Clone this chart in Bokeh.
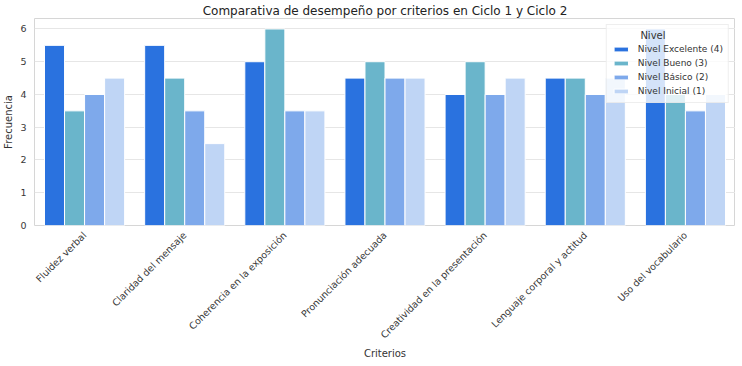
from bokeh.plotting import figure
from bokeh.models import ColumnDataSource, FactorRange, Legend, LegendItem
from bokeh.transform import dodge
from bokeh.embed import file_html
from bokeh.resources import INLINE
import math

criterios = ["Fluidez verbal", "Claridad del mensaje", "Coherencia en la exposición",
             "Pronunciación adecuada", "Creatividad en la presentación",
             "Lenguaje corporal y actitud", "Uso del vocabulario"]
excelente = [5.5, 5.5, 5.0, 4.5, 4.0, 4.5, 6.0]
bueno = [3.5, 4.5, 6.0, 5.0, 5.0, 4.5, 4.0]
basico = [4.0, 3.5, 3.5, 4.5, 4.0, 4.0, 3.5]
inicial = [4.5, 2.5, 3.5, 4.5, 4.5, 4.5, 4.0]
niveles = ["Nivel Excelente (4)", "Nivel Bueno (3)", "Nivel Básico (2)", "Nivel Inicial (1)"]
colores = ["#2a72df", "#6ab5cb", "#7ea9eb", "#bfd5f5"]

src = ColumnDataSource(dict(cat=criterios, exc=excelente, bue=bueno, bas=basico, ini=inicial))

p = figure(x_range=FactorRange(factors=criterios), y_range=(0, 6.32),
           frame_width=701, frame_height=207, output_backend="svg", toolbar_location=None,
           title="Comparativa de desempeño por criterios en Ciclo 1 y Ciclo 2",
           min_border_left=26, min_border_right=0, min_border_top=14, min_border_bottom=0)

cols = ["exc", "bue", "bas", "ini"]
offsets = [-0.3, -0.1, 0.1, 0.3]
renderers = []
for c, off, col in zip(cols, offsets, colores):
    r = p.vbar(x=dodge("cat", off, range=p.x_range), top=c, width=0.2, source=src,
               fill_color=col, line_color="white", line_width=1)
    renderers.append(r)

p.title.align = "center"
p.title.text_font = "DejaVu Sans"
p.title.text_font_size = "12px"
p.title.text_font_style = "normal"
p.title.text_color = "#222222"
p.title.standoff = 2

p.xgrid.grid_line_color = None
p.ygrid.grid_line_color = "#e6e6e6"
p.ygrid.grid_line_width = 1
p.outline_line_color = "#d6d6d6"
p.outline_line_width = 1

for ax in (p.xaxis, p.yaxis):
    ax.axis_line_color = None
    ax.major_tick_line_color = None
    ax.minor_tick_line_color = None
    ax.major_label_text_font = "DejaVu Sans"
    ax.major_label_text_font_size = "9.5px"
    ax.major_label_text_color = "#383838"
    ax.axis_label_text_font = "DejaVu Sans"
    ax.axis_label_text_font_size = "10px"
    ax.axis_label_text_font_style = "normal"
    ax.axis_label_text_color = "#333333"
    ax.major_tick_out = 0
    ax.major_tick_in = 0

p.yaxis.ticker = [0, 1, 2, 3, 4, 5, 6]
p.yaxis.axis_label = "Frecuencia"
p.yaxis.major_label_standoff = 8
p.yaxis.axis_label_standoff = 3
p.xaxis.axis_label = "Criterios"
p.xaxis.major_label_orientation = math.pi / 4
p.xaxis.major_label_standoff = 8
p.xaxis.axis_label_standoff = 1

legend = Legend(items=[LegendItem(label=n, renderers=[r]) for n, r in zip(niveles, renderers)],
                location="top_right", title="\u00a0" * 9 + "Nivel")
legend.title_text_font = "DejaVu Sans"
legend.title_text_font_size = "10px"
legend.title_text_font_style = "normal"
legend.title_text_color = "#333333"
legend.title_standoff = 2
legend.label_text_font = "DejaVu Sans"
legend.label_text_font_size = "9px"
legend.label_text_color = "#333333"
legend.label_height = 12
legend.glyph_height = 6
legend.glyph_width = 18
legend.spacing = 2
legend.padding = 5
legend.margin = 6
legend.background_fill_alpha = 0.8
legend.border_line_color = "#dddddd"
legend.label_standoff = 8
p.add_layout(legend)

open("out.html", "w").write(file_html(p, INLINE))
